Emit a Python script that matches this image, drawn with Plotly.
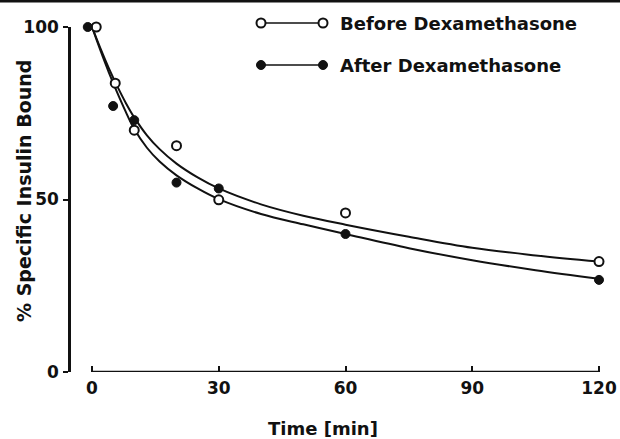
import plotly.graph_objects as go

# ---- data ----
time_before = [1, 5.5, 10, 20, 30, 60, 120]
bound_before = [100, 83.7, 70.1, 65.6, 49.9, 46.1, 32.0]
time_after = [-1, 5, 10, 20, 30, 60, 120]
bound_after = [100, 77.1, 73.0, 54.9, 53.2, 40.0, 26.7]

# fitted curves
fit_time = [0, 2, 4, 6, 8, 10, 13, 16, 20, 25, 30, 40, 50, 60, 75, 90, 105, 120]
fit_before = [100, 93.8, 88.0, 82.8, 78.0, 73.8, 68.6, 64.6, 60.4, 56.4, 53.2,
              48.6, 45.3, 42.7, 39.2, 36.0, 33.8, 32.0]
fit_after = [100, 93.2, 86.8, 80.9, 75.4, 70.4, 65.0, 61.0, 57.0, 53.2, 50.1,
             45.8, 42.8, 40.0, 35.9, 32.4, 29.5, 27.0]

x_ticks = [0, 30, 60, 90, 120]
y_ticks = [0, 50, 100]
legend_names = ["Before Dexamethasone", "After Dexamethasone"]

W, H = 620, 439
FONT = "DejaVu Sans"
BLACK = "#111111"

fig = go.Figure()

for fy in (fit_before, fit_after):
    fig.add_trace(go.Scatter(x=fit_time, y=fy, mode="lines",
                             line=dict(color=BLACK, width=2, shape="spline", smoothing=1),
                             cliponaxis=False, showlegend=False, hoverinfo="skip"))
fig.add_trace(go.Scatter(x=time_before, y=bound_before, mode="markers", name=legend_names[0],
                         marker=dict(symbol="circle", size=9, color="white",
                                     line=dict(color=BLACK, width=2)),
                         cliponaxis=False, showlegend=False))
fig.add_trace(go.Scatter(x=time_after, y=bound_after, mode="markers", name=legend_names[1],
                         marker=dict(symbol="circle", size=9, color=BLACK,
                                     line=dict(color=BLACK, width=1)),
                         cliponaxis=False, showlegend=False))

# ---- manual legend drawn on an overlay pixel-space axis pair ----
leg_x = [261, 323]
leg_y = [23, 65]
for i, name in enumerate(legend_names):
    filled = i == 1
    fig.add_trace(go.Scatter(
        x=leg_x, y=[leg_y[i], leg_y[i]], xaxis="x2", yaxis="y2",
        mode="lines+markers", showlegend=False, hoverinfo="skip",
        line=dict(color=BLACK, width=1.6),
        marker=dict(symbol="circle", size=9,
                    color=BLACK if filled else "white",
                    line=dict(color=BLACK, width=2 if not filled else 1)),
        cliponaxis=False))
    fig.add_annotation(x=338 / W, y=1 - (leg_y[i] + 0.5) / H, xref="paper", yref="paper",
                       xanchor="left", yanchor="middle", showarrow=False,
                       text=name, font=dict(family=FONT, size=18, color=BLACK, weight="bold"))

x_left_px, x0_px, x120_px, x_right_px = 71, 92, 599, 610
ppu = (x120_px - x0_px) / 120
x_range = [-(x0_px - x_left_px) / ppu, (x_right_px - x0_px) / ppu]
y_top_px, y_bot_px = 27, 372

fig.update_layout(
    width=W, height=H,
    margin=dict(l=0, r=0, t=0, b=0, autoexpand=False),
    paper_bgcolor="white", plot_bgcolor="rgba(0,0,0,0)",
    showlegend=False,
    xaxis=dict(domain=[x_left_px / W, x_right_px / W], range=x_range,
               showgrid=False, zeroline=False, showline=False,
               tickmode="array", tickvals=x_ticks,
               ticks="inside", ticklen=6, tickwidth=2, tickcolor=BLACK,
               ticklabelstandoff=4, automargin=False,
               tickfont=dict(family=FONT, size=17, color=BLACK, weight="bold")),
    yaxis=dict(domain=[1 - y_bot_px / H, 1 - y_top_px / H], range=[0, 100],
               showgrid=False, zeroline=False, showline=True, linewidth=2.5, linecolor=BLACK,
               tickmode="array", tickvals=y_ticks,
               ticks="outside", ticklen=5, tickwidth=2, tickcolor=BLACK,
               ticklabelstandoff=1, automargin=False,
               tickfont=dict(family=FONT, size=17, color=BLACK, weight="bold")),
    xaxis2=dict(domain=[0, 1], range=[0, W], visible=False, fixedrange=True, anchor="y2"),
    yaxis2=dict(domain=[0, 1], range=[H, 0], visible=False, fixedrange=True, anchor="x2"),
)

# x-axis baseline, from 0 to 120 only
fig.add_shape(type="line", xref="x", yref="y", x0=x_ticks[0], x1=x_ticks[-1], y0=0, y1=0,
              line=dict(color=BLACK, width=2.5))
# scan border at the top
fig.add_shape(type="line", xref="paper", yref="paper", x0=0, x1=1, y0=1 - 1 / H, y1=1 - 1 / H,
              line=dict(color=BLACK, width=3))

fig.add_annotation(x=24 / W, y=1 - 191 / H, xref="paper", yref="paper", showarrow=False,
                   textangle=-90, xanchor="center", yanchor="middle",
                   text="% Specific Insulin Bound",
                   font=dict(family=FONT, size=19, color=BLACK, weight="bold"))
fig.add_annotation(x=323 / W, y=1 - 428 / H, xref="paper", yref="paper", showarrow=False,
                   xanchor="center", yanchor="middle", text="Time [min]",
                   font=dict(family=FONT, size=18, color=BLACK, weight="bold"))

fig.write_html("out.html")
